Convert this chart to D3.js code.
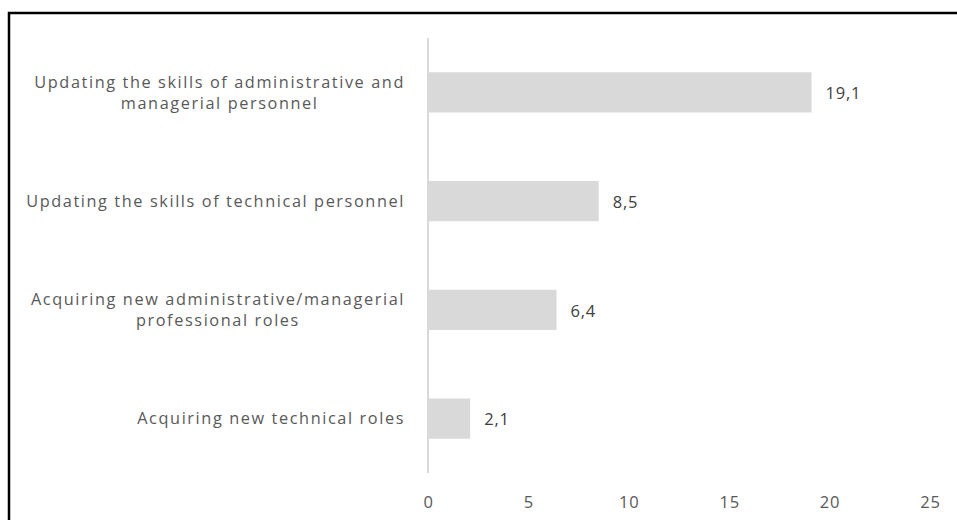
<!DOCTYPE html>
<html><head><meta charset="utf-8">
<script src="https://cdn.jsdelivr.net/npm/d3@7"></script>
<style>html,body{margin:0;padding:0;background:#fff;}svg{display:block;}</style>
</head><body>
<script>
const categories = [
  ["Updating the skills of administrative and", "managerial personnel"],
  ["Updating the skills of technical personnel"],
  ["Acquiring new administrative/managerial", "professional roles"],
  ["Acquiring new technical roles"]
];
const values = [19.1, 8.5, 6.4, 2.1];
const valueLabels = ["19,1", "8,5", "6,4", "2,1"];
const tickValues = [0, 5, 10, 15, 20, 25];

const W = 957, H = 520;
const svg = d3.select("body").append("svg").attr("width", W).attr("height", H);

svg.append("rect").attr("x", 9).attr("y", 13).attr("width", 960).attr("height", 520)
  .attr("fill", "none").attr("stroke", "#000").attr("stroke-width", 2.5);

const x = d3.scaleLinear().domain([0, 25]).range([428, 930]);
const y = d3.scaleBand().domain(d3.range(values.length)).range([38, 473]).paddingInner(0.63).paddingOuter(0.315);

const font = "'Open Sans', sans-serif";

svg.selectAll("rect.bar").data(values).join("rect").attr("class", "bar")
  .attr("x", x(0)).attr("y", (d, i) => y(i)).attr("width", d => x(d) - x(0)).attr("height", y.bandwidth())
  .attr("fill", "#d9d9d9");

svg.append("line").attr("x1", x(0)).attr("x2", x(0)).attr("y1", 38).attr("y2", 473)
  .attr("stroke", "#d9d9d9").attr("stroke-width", 2);

const xAxis = d3.axisBottom(x).tickValues(tickValues).tickSize(0).tickPadding(0).tickFormat(d3.format("d"));
const gx = svg.append("g").attr("transform", "translate(0,496)").call(xAxis);
gx.select(".domain").remove();
gx.selectAll("text").attr("font-family", font).attr("font-size", 16.5).attr("letter-spacing", 0.8)
  .attr("fill", "#595959").attr("dy", "0.71em");

svg.selectAll("text.val").data(values).join("text").attr("class", "val")
  .attr("x", d => x(d) + 14).attr("y", (d, i) => y(i) + y.bandwidth() / 2 + 1)
  .attr("dy", "0.35em").attr("font-family", font).attr("font-size", 16.5).attr("letter-spacing", 0.8)
  .attr("fill", "#404040")
  .text((d, i) => valueLabels[i]);

const rightEdge = 405, lineH = 21;
categories.forEach((lines, i) => {
  const g = svg.append("g");
  const texts = lines.map((t, j) => g.append("text").attr("font-family", font).attr("font-size", 16.3)
    .attr("letter-spacing", 1.6).attr("fill", "#595959").attr("text-anchor", "middle").text(t));
  const maxW = d3.max(texts, t => t.node().getComputedTextLength());
  const cx = rightEdge - maxW / 2;
  const cy = y(i) + y.bandwidth() / 2;
  texts.forEach((t, j) => {
    t.attr("x", cx).attr("y", cy + (j - (lines.length - 1) / 2) * lineH).attr("dy", "0.35em");
  });
});
</script>
</body></html>
